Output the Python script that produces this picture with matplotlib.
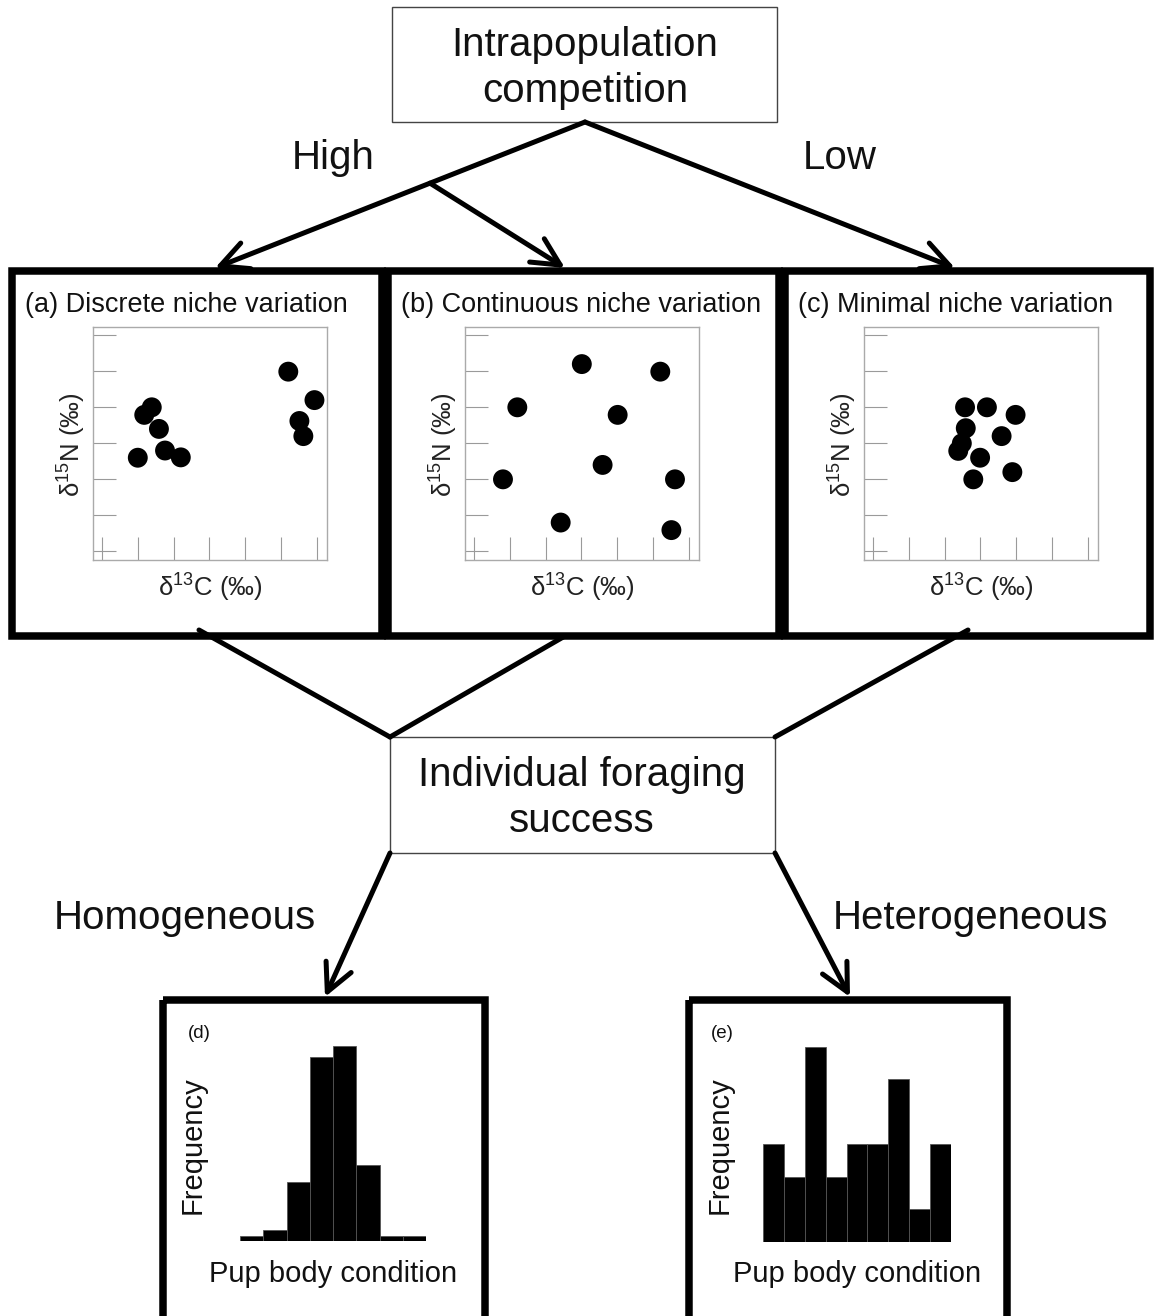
import matplotlib
matplotlib.use("Agg")
import matplotlib.pyplot as plt
from matplotlib.patches import Rectangle

plt.rcParams['font.family'] = ['Liberation Sans', 'DejaVu Sans']

W, H = 1154, 1316

# isotope scatter data (arbitrary units, 0-6 grid)
a_x = [5.20, 5.93, 5.51, 5.62, 1.39, 1.18, 1.59, 1.76, 2.20, 1.00]
a_y = [4.98, 4.19, 3.61, 3.19, 3.99, 3.78, 3.39, 2.79, 2.60, 2.59]
b_x = [3.01, 5.20, 1.21, 4.01, 3.59, 0.81, 5.61, 2.42, 5.51]
b_y = [5.19, 4.98, 3.99, 3.78, 2.39, 1.99, 1.99, 0.79, 0.58]
c_x = [2.57, 3.18, 3.98, 2.59, 3.59, 2.48, 2.38, 2.99, 3.89, 2.80]
c_y = [3.99, 3.99, 3.78, 3.41, 3.19, 2.99, 2.78, 2.59, 2.19, 1.99]

panel_titles = ['(a) Discrete niche variation',
                '(b) Continuous niche variation',
                '(c) Minimal niche variation']

# pup body condition histograms
d_freq = [1, 2, 11, 34, 36, 14, 1, 1]
e_freq = [3, 2, 6, 2, 3, 3, 5, 1, 3]

PX = 0.72  # pixels -> points at dpi 100

fig = plt.figure(figsize=(W / 100, H / 100), dpi=100)
bg = fig.add_axes([0, 0, 1, 1])
bg.set_xlim(0, W)
bg.set_ylim(H, 0)
bg.axis('off')


def px_axes(left, top, right, bottom):
    a = fig.add_axes([left / W, 1 - bottom / H, (right - left) / W, (bottom - top) / H])
    a.patch.set_alpha(0)
    return a


def line(p, q, lw=5):
    bg.plot([p[0], q[0]], [p[1], q[1]], color='black', lw=lw * PX,
            solid_capstyle='round')


def arrow(p, q, lw=5):
    bg.annotate('', xy=q, xytext=p,
                arrowprops=dict(arrowstyle='->,head_length=0.9,head_width=0.45',
                                lw=lw * PX, color='black', shrinkA=0, shrinkB=0,
                                mutation_scale=22, capstyle='round'))


def box(x0, y0, x1, y1, lw, color='black'):
    bg.add_patch(Rectangle((x0, y0), x1 - x0, y1 - y0, fill=False,
                           edgecolor=color, lw=lw * PX, joinstyle='miter'))


big = 29
# top box
box(392, 7, 777, 122, 1.4, '#444')
bg.text(585, 68, 'Intrapopulation\ncompetition', ha='center', va='center',
        fontsize=big, linespacing=1.3, color='#111')

# branches to the three panels
top = (585, 122)
left_tip = (215, 268)
t = (top[0] - 430) / (top[0] - left_tip[0])
fork = (430, top[1] + t * (left_tip[1] - top[1]))
arrow(top, left_tip)
arrow(fork, (565, 268))
arrow(top, (955, 268))
bg.text(333, 158, 'High', ha='center', va='center', fontsize=big, color='#111')
bg.text(840, 158, 'Low', ha='center', va='center', fontsize=big, color='#111')

# panel frames
frames = [(12, 382), (388, 779), (785, 1150)]
for x0, x1 in frames:
    box(x0, 271, x1, 636, 7.5)

axes_left = [93, 465, 864]
for i, (xs, ys) in enumerate([(a_x, a_y), (b_x, b_y), (c_x, c_y)]):
    l = axes_left[i]
    bg.text(frames[i][0] + 13, 305, panel_titles[i], ha='left', va='center',
            fontsize=19.5, color='#111')
    ax = px_axes(l, 327, l + 234, 560)
    ax.scatter(xs, ys, s=205, color='black', edgecolor='none', zorder=3)
    ax.set_xlim(-0.25, 6.28)
    ax.set_ylim(-0.25, 6.22)
    ax.set_xticks(range(7))
    ax.set_yticks(range(7))
    ax.tick_params(direction='in', length=16.5, width=0.8, color='#9a9a9a',
                   labelbottom=False, labelleft=False)
    for s in ax.spines.values():
        s.set_color('#aaaaaa')
        s.set_linewidth(1.0)
    bg.text(l + 117, 587, r'δ$^{\mathregular{13}}$C (‰)', ha='center', va='center',
            fontsize=18.5, color='#222')
    bg.text(l - 22, 445, r'δ$^{\mathregular{15}}$N (‰)', ha='center', va='center',
            fontsize=18.5, color='#222', rotation=90)

# converge on foraging success
line((199, 630), (390, 737))
line((565, 636), (390, 737))
line((968, 630), (775, 737))
box(390, 737, 775, 853, 1.4, '#444')
bg.text(582, 798, 'Individual foraging\nsuccess', ha='center', va='center',
        fontsize=big, linespacing=1.3, color='#111')

arrow((390, 853), (325, 997))
arrow((775, 853), (850, 997))
bg.text(185, 918, 'Homogeneous', ha='center', va='center', fontsize=big, color='#111')
bg.text(970, 918, 'Heterogeneous', ha='center', va='center', fontsize=big, color='#111')

# histogram panels
box(163, 1000, 485, 1330, 7.5)
box(689, 1000, 1007, 1330, 7.5)

hd = px_axes(240, 1041, 426, 1241)
hd.bar(range(len(d_freq)), d_freq, width=1, align='edge', color='black',
       edgecolor='#555', linewidth=0.6)
hd.set_xlim(0, len(d_freq))
hd.set_ylim(0, 37)
hd.axis('off')

he = px_axes(763, 1040, 951, 1242)
he.bar(range(len(e_freq)), e_freq, width=1, align='edge', color='black',
       edgecolor='#555', linewidth=0.6)
he.set_xlim(0, len(e_freq))
he.set_ylim(0, 6.2)
he.axis('off')

for lab, cx, fx, px in [('(d)', 199, 193, 333), ('(e)', 722, 720, 857)]:
    bg.text(cx, 1033, lab, ha='center', va='center', fontsize=13.5, color='#111')
    bg.text(fx, 1145, 'Frequency', ha='center', va='center', fontsize=21,
            rotation=90, color='#111')
    bg.text(px, 1274, 'Pup body condition', ha='center', va='center',
            fontsize=21, color='#111')

fig.savefig('out.png', dpi=100)
